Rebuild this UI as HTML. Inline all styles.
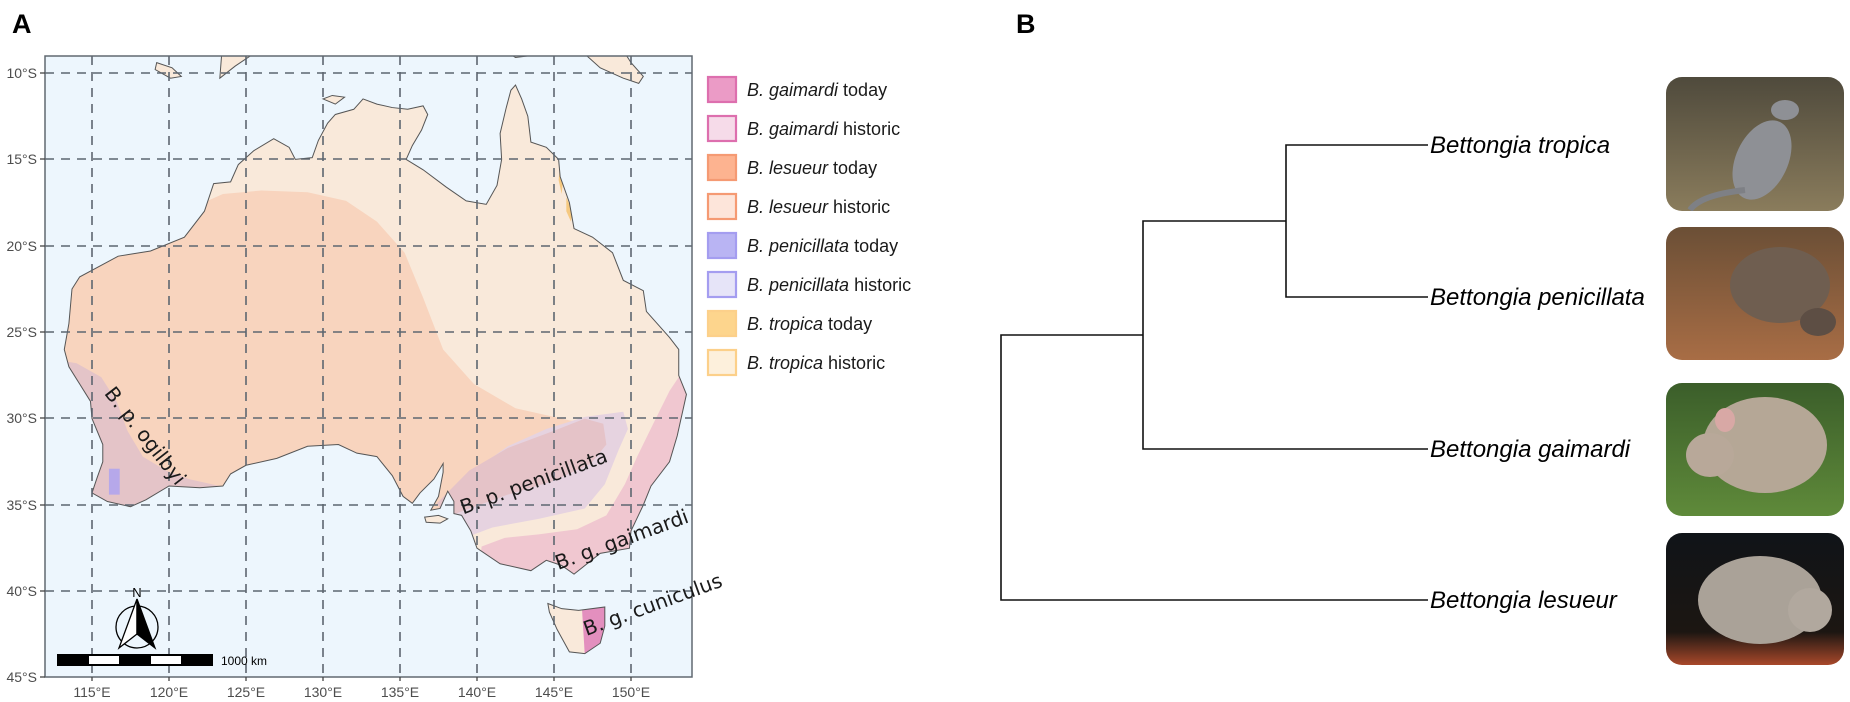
<!DOCTYPE html>
<html><head><meta charset="utf-8"><style>
html,body{margin:0;padding:0;background:#fff;}
svg{display:block;font-family:"Liberation Sans",sans-serif;}
</style></head><body>
<svg width="1850" height="702" viewBox="0 0 1850 702" xmlns="http://www.w3.org/2000/svg">
<defs>
<clipPath id="frame"><rect x="45" y="56" width="647" height="621"/></clipPath>
<clipPath id="aus" clipPathUnits="userSpaceOnUse">
<path transform="matrix(15.4 0 0 17.28 -1679 -99.8)" d="M113.2,26 L113.5,24.5 113.7,22.5 114.2,21.8 116.7,20.6 118.8,20.3 121,19.5 122.3,18 122.9,16.4 124,16.3 124.5,15.3 125.5,14.5 126.8,13.8 127.8,14.3 128.2,15 129.3,14.9 129.7,13.9 130.3,12.9 130.8,12.4 132,12.1 132.6,11.5 133.5,11.8 134.5,12 135.5,12.1 136.5,11.9 136.8,12.4 136.4,13.3 135.8,14.2 135.4,15 136.5,15.6 138,16.6 139.3,17.4 140.6,17.6 141.3,16.5 141.6,15 141.5,13.5 141.9,12 142.2,11 142.5,10.7 142.9,11.5 143.3,12.5 143.5,14 144.5,14.3 145.3,15 145.4,16 146,17.5 146.3,19 147.5,19.5 148.8,20.4 149.5,22 150.8,22.6 151,23.8 152.5,25.3 153.1,26 153.1,27.5 153.6,28.6 153,31 152.5,32.5 151.3,33.9 150.8,35 150,36.5 149.9,37.5 148,37.8 146.3,39 145.5,38.5 144.5,38.2 143.5,38.8 141.5,38.4 140,37.5 139.6,36.5 139,35.6 138.5,35.5 138.5,34.8 138.1,34.2 137.9,34.6 137.6,35.2 137,35.3 137.5,34.5 137.8,33.1 137.8,32.6 137.2,33.5 136.3,34.3 135.8,34.9 135.2,34.5 134.5,33.3 133.5,32.2 132.2,32 131,31.5 129,31.6 127,32.3 125,32.7 124,33.2 123.5,33.9 122,34 120,33.9 118.5,34.7 117.5,35.1 116,34.8 115,34.3 115.3,33.5 115.7,32.5 115.7,31.5 115,30 114.9,29 114.2,28 113.5,27 Z M144.6,40.7 L145.5,41 146.6,41.1 148.3,40.9 148.3,42 148,43 147,43.6 146,43.5 145.2,42.2 144.7,41.2 Z"/>
</clipPath>
</defs>

<text x="12" y="33" font-size="27" font-weight="bold" fill="#000">A</text>
<text x="1016" y="33" font-size="27" font-weight="bold" fill="#000">B</text>

<!-- map -->
<rect x="45" y="56" width="647" height="621" fill="#edf6fd"/>
<g clip-path="url(#frame)">
 <g transform="matrix(15.4 0 0 17.28 -1679 -99.8)" fill="#f9e9da" stroke="#555" stroke-width="1">
  <path vector-effect="non-scaling-stroke" d="M123.3,10.3 L124.3,9.6 125.3,9.0 126.5,8.6 127.2,8.4 126.8,8 123.5,8 Z"/>
  <path vector-effect="non-scaling-stroke" d="M119.2,9.4 L120.2,9.7 120.8,10.2 120.1,10.3 119.1,9.8 Z"/>
  <path vector-effect="non-scaling-stroke" d="M140.5,8 L142.5,9.1 143.4,9.0 145,8 Z"/>
  <path vector-effect="non-scaling-stroke" d="M145.8,8 L147,8.9 148,9.7 149.5,10.3 150.5,10.6 150.8,10.2 150,9.4 149,8 Z"/>
  <path vector-effect="non-scaling-stroke" d="M136.6,35.7 L137.5,35.6 138.1,35.8 137.6,36.05 136.7,36 Z"/>
  <path vector-effect="non-scaling-stroke" d="M130.0,11.5 L130.6,11.3 131.4,11.4 130.8,11.8 Z"/>
 </g>
 <g clip-path="url(#aus)">
  <rect x="45" y="56" width="647" height="621" fill="#f9e9da"/>
  <g transform="matrix(15.4 0 0 17.28 -1679 -99.8)">
   <!-- lesueur historic -->
   <path fill="#f8d4be" d="M110,20 L121,18 123.5,17 126,16.8 129,16.9 131.5,17.4 133.5,18.6 135.3,20.4 136.5,23 137.8,26 139.8,28 142.5,29.4 146,30.1 149,30.4 148,32 142,33.5 138,35.5 130,40 110,40 Z"/>
   <!-- gaimardi historic coastal -->
   <path fill="#f0c7d0" d="M154,26 L153.4,27.2 152.5,28.4 151.5,30.2 150.4,32.2 149.6,33.8 148.4,35.6 146.5,36.4 144,36.7 141.8,36.9 140.3,37.4 140,40 155,40 Z"/>
   <!-- penicillata historic east -->
   <path fill="#e6d3e0" d="M137.6,35 L139.5,33.2 142,31.6 144.5,30.6 147,29.9 149.5,29.6 149.8,30.6 149.2,31.8 148.3,33.8 147,35.2 144,35.8 141,36.3 139.5,36.8 138.5,36.5 Z"/>
   <!-- penicillata band east -->
   <path fill="#e5c3c8" d="M137.4,34.9 L139.5,33 142,31.7 145,30.7 147,30 148.2,30.3 148.4,31.5 147.4,32.6 145,33.6 142,34.4 139.5,35.2 138,35.7 Z"/>
   <!-- ogilbyi -->
   <path fill="#e4c4c8" d="M112,26.5 L114,26.8 115.6,27.6 116.6,29 117.3,30.7 118.3,32.2 119.8,33 121.3,33.5 123.3,33.9 123.5,40 110,40 110,26.5 Z"/>
   <rect x="116.1" y="32.9" width="0.7" height="1.5" fill="#b6a8ea"/>
   <path fill="#e38fbe" d="M146.8,40.75 L148.5,40.55 148.5,43.7 147,43.7 Z"/>
   <path fill="#f6c980" d="M145.4,15.3 L145.6,16 145.5,17 145.3,16.2 Z M145.8,17.2 L146.2,18 146.1,18.6 145.8,18 Z"/>
  </g>
 </g>
 <path transform="matrix(15.4 0 0 17.28 -1679 -99.8)" fill="none" stroke="#555" stroke-width="1" vector-effect="non-scaling-stroke" d="M113.2,26 L113.5,24.5 113.7,22.5 114.2,21.8 116.7,20.6 118.8,20.3 121,19.5 122.3,18 122.9,16.4 124,16.3 124.5,15.3 125.5,14.5 126.8,13.8 127.8,14.3 128.2,15 129.3,14.9 129.7,13.9 130.3,12.9 130.8,12.4 132,12.1 132.6,11.5 133.5,11.8 134.5,12 135.5,12.1 136.5,11.9 136.8,12.4 136.4,13.3 135.8,14.2 135.4,15 136.5,15.6 138,16.6 139.3,17.4 140.6,17.6 141.3,16.5 141.6,15 141.5,13.5 141.9,12 142.2,11 142.5,10.7 142.9,11.5 143.3,12.5 143.5,14 144.5,14.3 145.3,15 145.4,16 146,17.5 146.3,19 147.5,19.5 148.8,20.4 149.5,22 150.8,22.6 151,23.8 152.5,25.3 153.1,26 153.1,27.5 153.6,28.6 153,31 152.5,32.5 151.3,33.9 150.8,35 150,36.5 149.9,37.5 148,37.8 146.3,39 145.5,38.5 144.5,38.2 143.5,38.8 141.5,38.4 140,37.5 139.6,36.5 139,35.6 138.5,35.5 138.5,34.8 138.1,34.2 137.9,34.6 137.6,35.2 137,35.3 137.5,34.5 137.8,33.1 137.8,32.6 137.2,33.5 136.3,34.3 135.8,34.9 135.2,34.5 134.5,33.3 133.5,32.2 132.2,32 131,31.5 129,31.6 127,32.3 125,32.7 124,33.2 123.5,33.9 122,34 120,33.9 118.5,34.7 117.5,35.1 116,34.8 115,34.3 115.3,33.5 115.7,32.5 115.7,31.5 115,30 114.9,29 114.2,28 113.5,27 Z M144.6,40.7 L145.5,41 146.6,41.1 148.3,40.9 148.3,42 148,43 147,43.6 146,43.5 145.2,42.2 144.7,41.2 Z"/>
 <g stroke="#5d6670" stroke-width="1.6" stroke-dasharray="9,7" fill="none">
  <line x1="45" y1="73" x2="692" y2="73"/><line x1="45" y1="159" x2="692" y2="159"/>
  <line x1="45" y1="246" x2="692" y2="246"/><line x1="45" y1="332" x2="692" y2="332"/>
  <line x1="45" y1="418" x2="692" y2="418"/><line x1="45" y1="505" x2="692" y2="505"/>
  <line x1="45" y1="591" x2="692" y2="591"/>
  <line x1="92" y1="56" x2="92" y2="677"/><line x1="169" y1="56" x2="169" y2="677"/>
  <line x1="246" y1="56" x2="246" y2="677"/><line x1="323" y1="56" x2="323" y2="677"/>
  <line x1="400" y1="56" x2="400" y2="677"/><line x1="477" y1="56" x2="477" y2="677"/>
  <line x1="554" y1="56" x2="554" y2="677"/><line x1="631" y1="56" x2="631" y2="677"/>
 </g>
 <circle cx="137" cy="627" r="21" fill="none" stroke="#000" stroke-width="1.3"/>
 <path d="M137,599 L119,648 137,634 Z" fill="#fff" stroke="#000" stroke-width="1.3"/>
 <path d="M137,599 L155,648 137,634 Z" fill="#000" stroke="#000" stroke-width="1.3"/>
 <text x="137" y="597" font-size="13" text-anchor="middle" fill="#000">N</text>
 <rect x="57" y="654" width="156" height="12" fill="#000"/>
 <rect x="89" y="656" width="30" height="8" fill="#fff"/>
 <rect x="151" y="656" width="30" height="8" fill="#fff"/>
 <text x="221" y="665" font-size="12" fill="#000">1000 km</text>
</g>
<rect x="45" y="56" width="647" height="621" fill="none" stroke="#606870" stroke-width="1.5"/>
<!-- subspecies labels -->
<g font-family="DejaVu Sans, sans-serif" font-size="20" fill="#1a1a1a" text-anchor="middle">
 <text transform="translate(140,440) rotate(52)">B. p. ogilbyi</text>
 <text transform="translate(536,488) rotate(-20)">B. p. penicillata</text>
 <text transform="translate(624,546) rotate(-20)">B. g. gaimardi</text>
 <text transform="translate(655,611) rotate(-20)">B. g. cuniculus</text>
</g>
<g stroke="#444" stroke-width="1.3">
 <line x1="40" y1="73" x2="45" y2="73"/><line x1="40" y1="159" x2="45" y2="159"/><line x1="40" y1="246" x2="45" y2="246"/><line x1="40" y1="332" x2="45" y2="332"/><line x1="40" y1="418" x2="45" y2="418"/><line x1="40" y1="505" x2="45" y2="505"/><line x1="40" y1="591" x2="45" y2="591"/><line x1="40" y1="677" x2="45" y2="677"/>
 <line x1="92" y1="677" x2="92" y2="681"/><line x1="169" y1="677" x2="169" y2="681"/><line x1="246" y1="677" x2="246" y2="681"/><line x1="323" y1="677" x2="323" y2="681"/><line x1="400" y1="677" x2="400" y2="681"/><line x1="477" y1="677" x2="477" y2="681"/><line x1="554" y1="677" x2="554" y2="681"/><line x1="631" y1="677" x2="631" y2="681"/>
</g>
<g font-size="14" fill="#4d4d4d" text-anchor="end">
 <text x="37" y="78">10°S</text><text x="37" y="164">15°S</text><text x="37" y="251">20°S</text><text x="37" y="337">25°S</text><text x="37" y="423">30°S</text><text x="37" y="510">35°S</text><text x="37" y="596">40°S</text><text x="37" y="682">45°S</text>
</g>
<g font-size="14" fill="#4d4d4d" text-anchor="middle">
 <text x="92" y="697">115°E</text><text x="169" y="697">120°E</text><text x="246" y="697">125°E</text><text x="323" y="697">130°E</text><text x="400" y="697">135°E</text><text x="477" y="697">140°E</text><text x="554" y="697">145°E</text><text x="631" y="697">150°E</text>
</g>

<g stroke-width="2.2">
 <rect x="708" y="77" width="28" height="25" fill="#eb9bc6" stroke="#dd6fae"/>
 <rect x="708" y="116" width="28" height="25" fill="#f6dbe9" stroke="#dd6fae"/>
 <rect x="708" y="155" width="28" height="25" fill="#fdb390" stroke="#f59a73"/>
 <rect x="708" y="194" width="28" height="25" fill="#fde5da" stroke="#f59a73"/>
 <rect x="708" y="233" width="28" height="25" fill="#b9b4f3" stroke="#a49df0"/>
 <rect x="708" y="272" width="28" height="25" fill="#e6e4f8" stroke="#a49df0"/>
 <rect x="708" y="311" width="28" height="25" fill="#fdd58d" stroke="#fcd08a"/>
 <rect x="708" y="350" width="28" height="25" fill="#fdf0dc" stroke="#fcd08a"/>
</g>
<g font-size="18" fill="#1a1a1a">
 <text x="747" y="96"><tspan font-style="italic">B. gaimardi</tspan> today</text>
 <text x="747" y="135"><tspan font-style="italic">B. gaimardi</tspan> historic</text>
 <text x="747" y="174"><tspan font-style="italic">B. lesueur</tspan> today</text>
 <text x="747" y="213"><tspan font-style="italic">B. lesueur</tspan> historic</text>
 <text x="747" y="252"><tspan font-style="italic">B. penicillata</tspan> today</text>
 <text x="747" y="291"><tspan font-style="italic">B. penicillata</tspan> historic</text>
 <text x="747" y="330"><tspan font-style="italic">B. tropica</tspan> today</text>
 <text x="747" y="369"><tspan font-style="italic">B. tropica</tspan> historic</text>
</g>

<g stroke="#111" stroke-width="1.6" fill="none">
 <path d="M1428,145 H1286 V297 H1428"/>
 <path d="M1286,221 H1143 V449 H1428"/>
 <path d="M1143,335 H1001 V600 H1428"/>
</g>
<g font-size="24" font-style="italic" fill="#000">
 <text x="1430" y="153">Bettongia tropica</text>
 <text x="1430" y="305">Bettongia penicillata</text>
 <text x="1430" y="457">Bettongia gaimardi</text>
 <text x="1430" y="608">Bettongia lesueur</text>
</g>

<defs>
 <linearGradient id="g1" x1="0" y1="0" x2="0" y2="1"><stop offset="0" stop-color="#4f4a3c"/><stop offset="1" stop-color="#8a7c5c"/></linearGradient>
 <linearGradient id="g2" x1="0" y1="0" x2="0" y2="1"><stop offset="0" stop-color="#6b4f36"/><stop offset="1" stop-color="#a86d45"/></linearGradient>
 <linearGradient id="g3" x1="0" y1="0" x2="0" y2="1"><stop offset="0" stop-color="#3b5e2a"/><stop offset="1" stop-color="#5f8a3a"/></linearGradient>
 <linearGradient id="g4" x1="0" y1="0" x2="0" y2="1"><stop offset="0" stop-color="#101418"/><stop offset="0.75" stop-color="#1c1612"/><stop offset="1" stop-color="#a8482a"/></linearGradient>
 <clipPath id="p1"><rect x="1666" y="77" width="178" height="134" rx="16"/></clipPath>
 <clipPath id="p2"><rect x="1666" y="227" width="178" height="133" rx="16"/></clipPath>
 <clipPath id="p3"><rect x="1666" y="383" width="178" height="133" rx="16"/></clipPath>
 <clipPath id="p4"><rect x="1666" y="533" width="178" height="132" rx="16"/></clipPath>
</defs>
<g clip-path="url(#p1)">
 <rect x="1666" y="77" width="178" height="134" fill="url(#g1)"/>
 <ellipse cx="1762" cy="160" rx="26" ry="42" fill="#8e9095" transform="rotate(25 1762 160)"/>
 <ellipse cx="1785" cy="110" rx="14" ry="10" fill="#8e9095"/>
 <path d="M1745,190 Q1700,195 1690,210" stroke="#7e8085" stroke-width="6" fill="none"/>
</g>
<g clip-path="url(#p2)">
 <rect x="1666" y="227" width="178" height="133" fill="url(#g2)"/>
 <ellipse cx="1780" cy="285" rx="50" ry="38" fill="#6f5e50"/>
 <ellipse cx="1818" cy="322" rx="18" ry="14" fill="#5d4e44"/>
</g>
<g clip-path="url(#p3)">
 <rect x="1666" y="383" width="178" height="133" fill="url(#g3)"/>
 <ellipse cx="1765" cy="445" rx="62" ry="48" fill="#b5a796"/>
 <ellipse cx="1710" cy="455" rx="24" ry="22" fill="#b8a899"/>
 <ellipse cx="1725" cy="420" rx="10" ry="12" fill="#d8a8a5"/>
</g>
<g clip-path="url(#p4)">
 <rect x="1666" y="533" width="178" height="132" fill="url(#g4)"/>
 <ellipse cx="1760" cy="600" rx="62" ry="44" fill="#aaa298"/>
 <ellipse cx="1810" cy="610" rx="22" ry="22" fill="#b1a89e"/>
</g>
</svg>
</body></html>
